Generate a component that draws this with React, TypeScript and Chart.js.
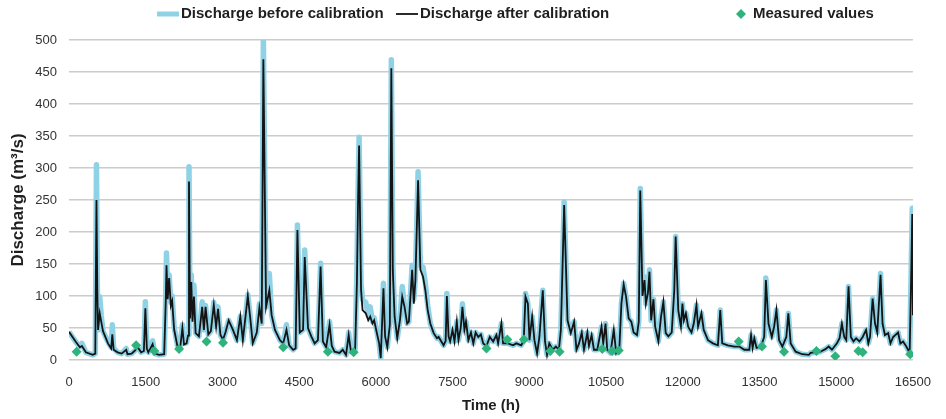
import React, { useEffect, useRef } from "react";
import { Chart, registerables } from "chart.js";

Chart.register(...registerables);

// Simulation time steps (hours)
const timeH = [
  0, 136, 213, 252, 330, 465, 514, 537, 553, 568, 601, 630, 665, 762, 824, 847, 873, 950, 1028, 1119,
  1144, 1222, 1280, 1344, 1410, 1464, 1493, 1522, 1551, 1635, 1677, 1764, 1861, 1891, 1906, 1929, 1958, 1991, 2017, 2055,
  2119, 2172, 2217, 2249, 2298, 2327, 2346, 2366, 2391, 2414, 2443, 2476, 2540, 2604, 2637, 2670, 2724, 2773, 2831, 2876,
  2914, 2961, 3011, 3058, 3122, 3205, 3283, 3349, 3399, 3496, 3543, 3593, 3671, 3723, 3768, 3800, 3853, 3917, 3962, 4027,
  4124, 4188, 4252, 4305, 4382, 4431, 4466, 4512, 4576, 4609, 4673, 4737, 4803, 4867, 4919, 4964, 5028, 5094, 5138, 5191,
  5288, 5352, 5416, 5468, 5513, 5594, 5629, 5652, 5672, 5691, 5710, 5739, 5803, 5850, 5889, 5933, 5966, 6017, 6064, 6095,
  6148, 6180, 6224, 6273, 6302, 6331, 6366, 6418, 6470, 6515, 6560, 6612, 6645, 6709, 6742, 6773, 6825, 6870, 6922, 6967,
  7013, 7064, 7130, 7194, 7226, 7324, 7364, 7388, 7421, 7452, 7498, 7537, 7582, 7615, 7659, 7692, 7731, 7762, 7808, 7859,
  7905, 7950, 8002, 8053, 8099, 8163, 8227, 8293, 8357, 8390, 8454, 8487, 8584, 8681, 8745, 8842, 8890, 8925, 8972, 9003,
  9055, 9100, 9152, 9197, 9263, 9307, 9346, 9390, 9457, 9520, 9578, 9617, 9681, 9747, 9811, 9876, 9922, 9972, 10025, 10069,
  10135, 10166, 10218, 10263, 10329, 10412, 10445, 10490, 10523, 10587, 10651, 10698, 10761, 10800, 10845, 10891, 10942, 10994, 11039, 11105,
  11140, 11169, 11213, 11252, 11279, 11318, 11349, 11382, 11427, 11460, 11524, 11576, 11621, 11667, 11718, 11784, 11834, 11861, 11912, 11964,
  11993, 12022, 12061, 12105, 12171, 12215, 12268, 12299, 12365, 12410, 12493, 12590, 12687, 12733, 12772, 12881, 13010, 13107, 13204, 13301,
  13335, 13366, 13399, 13443, 13529, 13592, 13625, 13676, 13741, 13786, 13831, 13883, 13947, 14025, 14064, 14110, 14207, 14335, 14465, 14498,
  14692, 14789, 14853, 14917, 15014, 15066, 15111, 15157, 15196, 15241, 15286, 15338, 15390, 15454, 15518, 15584, 15628, 15661, 15712, 15759,
  15803, 15867, 15906, 15952, 16016, 16061, 16113, 16210, 16255, 16307, 16371, 16436, 16468, 16487, 16500,
];

// Simulated discharge with the initial parameter set (m3/s)
const dischargeBefore = [
  44, 28, 21, 26, 12, 8, 10, 305, 120, 47, 99, 70, 45, 28, 20, 55, 18, 12, 10, 18,
  9, 10, 14, 20, 12, 14, 91, 20, 12, 30, 10, 8, 9, 100, 167, 100, 133, 90, 100, 52,
  23, 20, 55, 26, 27, 40, 302, 75, 133, 70, 117, 42, 37, 91, 47, 85, 40, 45, 90, 52,
  83, 39, 32, 43, 62, 47, 31, 68, 31, 102, 68, 26, 43, 88, 57, 500, 83, 135, 70, 47,
  31, 26, 55, 23, 16, 20, 211, 43, 47, 172, 50, 37, 26, 31, 151, 29, 20, 60, 22, 13,
  11, 16, 8, 43, 13, 16, 141, 260, 348, 240, 120, 94, 90, 70, 83, 60, 66, 45, 26, 3,
  120, 37, 20, 60, 469, 150, 68, 34, 62, 115, 83, 57, 60, 148, 95, 130, 294, 148, 145, 120,
  85, 57, 42, 34, 36, 23, 30, 104, 37, 29, 47, 29, 60, 31, 50, 88, 47, 60, 31, 43,
  26, 43, 36, 40, 26, 22, 36, 29, 39, 26, 57, 26, 26, 23, 26, 23, 30, 104, 88, 31,
  68, 31, 10, 36, 109, 29, 8, 26, 16, 21, 16, 47, 247, 62, 42, 60, 16, 26, 43, 16,
  43, 22, 39, 16, 16, 52, 26, 57, 16, 11, 47, 11, 19, 88, 120, 99, 65, 60, 43, 39,
  60, 268, 104, 130, 88, 104, 141, 62, 95, 52, 29, 68, 91, 42, 37, 43, 109, 193, 78, 52,
  88, 62, 73, 52, 43, 57, 86, 52, 73, 47, 31, 26, 23, 78, 26, 23, 21, 21, 16, 16,
  39, 19, 34, 19, 21, 36, 128, 57, 36, 52, 78, 31, 21, 36, 73, 26, 13, 9, 8, 11,
  13, 17, 21, 16, 26, 34, 57, 36, 31, 115, 36, 29, 34, 29, 36, 47, 26, 36, 96, 57,
  43, 135, 57, 39, 42, 26, 36, 43, 26, 29, 21, 11, 150, 237, 72,
];

// Simulated discharge with the calibrated parameter set (m3/s)
const dischargeAfter = [
  44, 28, 20, 22, 12, 8, 10, 250, 110, 47, 73, 60, 45, 26, 18, 40, 16, 12, 10, 16,
  9, 10, 14, 20, 12, 14, 81, 18, 12, 25, 10, 8, 9, 90, 148, 95, 128, 85, 92, 48,
  22, 18, 50, 24, 26, 38, 279, 65, 122, 60, 99, 42, 37, 83, 47, 83, 40, 45, 86, 52,
  80, 39, 32, 43, 62, 47, 31, 68, 31, 100, 66, 26, 43, 82, 57, 470, 83, 109, 70, 47,
  31, 26, 47, 23, 16, 18, 203, 43, 47, 161, 50, 37, 26, 31, 146, 29, 20, 55, 22, 13,
  11, 16, 8, 39, 13, 16, 120, 250, 335, 220, 110, 78, 73, 62, 68, 57, 62, 43, 26, 3,
  112, 37, 20, 55, 456, 140, 68, 34, 62, 99, 83, 57, 60, 141, 88, 125, 281, 141, 130, 109,
  78, 57, 42, 34, 36, 23, 30, 100, 37, 29, 47, 29, 60, 31, 50, 83, 47, 60, 31, 43,
  26, 43, 36, 40, 26, 22, 36, 29, 39, 26, 57, 26, 26, 23, 26, 23, 30, 99, 88, 31,
  68, 31, 10, 36, 109, 29, 8, 26, 16, 21, 16, 47, 242, 62, 42, 60, 16, 26, 43, 16,
  43, 22, 39, 16, 16, 52, 26, 57, 16, 11, 47, 11, 19, 88, 118, 99, 65, 60, 43, 39,
  60, 265, 100, 125, 88, 104, 138, 62, 95, 52, 29, 68, 91, 42, 37, 43, 109, 193, 78, 52,
  88, 62, 73, 52, 43, 57, 86, 52, 73, 47, 31, 26, 23, 78, 26, 23, 21, 21, 16, 16,
  39, 19, 34, 19, 21, 36, 125, 57, 36, 52, 78, 31, 21, 36, 73, 26, 13, 9, 8, 11,
  13, 17, 21, 16, 26, 34, 57, 36, 31, 115, 36, 29, 34, 29, 36, 47, 26, 36, 96, 57,
  43, 133, 57, 39, 42, 26, 36, 43, 26, 29, 21, 11, 140, 228, 70,
];

// Gauged discharge observations
const measuredTimeH = [
  149, 1313, 1668, 2152, 2689, 3011, 4188, 5061, 5565, 8163, 8570, 8894, 9410, 9592, 10426, 10620, 10748,
  13094, 13548, 13980, 14614, 14983, 15434, 15518, 16448,
];
const measuredQ = [
  13, 23, 14, 17, 29, 27, 20, 13, 12, 18, 32, 32, 14, 13, 17, 14, 15,
  29, 21, 13, 14, 6, 14, 12, 9,
];

const seriesNames = ["Discharge before calibration", "Discharge after calibration", "Measured values"];
const BEFORE_COLOR = "#8fd2e6";
const AFTER_COLOR = "#141414";
const MEASURED_COLOR = "#2fb37c";
const FONT = "'Liberation Sans', Arial, sans-serif";

const legendPlugin = {
  id: "topLegend",
  afterDraw(chart: any) {
    const ctx = chart.ctx as CanvasRenderingContext2D;
    const y = 14;
    ctx.save();
    ctx.font = `bold 15px ${FONT}`;
    ctx.fillStyle = "#1f1f1f";
    ctx.textBaseline = "middle";
    ctx.textAlign = "left";

    ctx.lineCap = "butt";
    ctx.strokeStyle = BEFORE_COLOR;
    ctx.lineWidth = 5;
    ctx.beginPath();
    ctx.moveTo(157, y);
    ctx.lineTo(179, y);
    ctx.stroke();
    ctx.fillText(seriesNames[0], 181, y);

    ctx.strokeStyle = AFTER_COLOR;
    ctx.lineWidth = 1.8;
    ctx.beginPath();
    ctx.moveTo(396, y);
    ctx.lineTo(418, y);
    ctx.stroke();
    ctx.fillText(seriesNames[1], 420, y);

    ctx.fillStyle = MEASURED_COLOR;
    ctx.beginPath();
    ctx.moveTo(741, y - 5);
    ctx.lineTo(746, y);
    ctx.lineTo(741, y + 5);
    ctx.lineTo(736, y);
    ctx.closePath();
    ctx.fill();
    ctx.fillStyle = "#1f1f1f";
    ctx.fillText(seriesNames[2], 753, y);
    ctx.restore();
  },
};

export default function App() {
  const canvasRef = useRef<HTMLCanvasElement | null>(null);

  useEffect(() => {
    if (!canvasRef.current) return;
    const before = timeH.map((t, i) => ({ x: t, y: dischargeBefore[i] }));
    const after = timeH.map((t, i) => ({ x: t, y: dischargeAfter[i] }));
    const measured = measuredTimeH.map((t, i) => ({ x: t, y: measuredQ[i] }));

    const chart = new Chart(canvasRef.current, {
      type: "line",
      data: {
        datasets: [
          {
            label: seriesNames[0],
            data: before,
            borderColor: BEFORE_COLOR,
            backgroundColor: BEFORE_COLOR,
            borderWidth: 5.5,
            borderJoinStyle: "round",
            pointRadius: 0,
            tension: 0,
            order: 3,
          },
          {
            label: seriesNames[1],
            data: after,
            borderColor: AFTER_COLOR,
            backgroundColor: AFTER_COLOR,
            borderWidth: 1.8,
            pointRadius: 0,
            tension: 0,
            order: 2,
          },
          {
            type: "scatter",
            label: seriesNames[2],
            data: measured,
            showLine: false,
            pointStyle: "rectRot",
            pointRadius: 5,
            backgroundColor: MEASURED_COLOR,
            borderColor: MEASURED_COLOR,
            borderWidth: 0,
            order: 1,
          } as any,
        ],
      },
      options: {
        responsive: false,
        animation: false,
        events: [],
        layout: { padding: { left: 0, right: 24, top: 40, bottom: 0 } },
        plugins: {
          legend: { display: false },
          tooltip: { enabled: false },
        },
        scales: {
          x: {
            type: "linear",
            min: 0,
            max: 16500,
            afterFit: (scale: any) => {
              scale.height = 59;
            },
            ticks: {
              stepSize: 1500,
              autoSkip: false,
              maxRotation: 0,
              padding: 15,
              color: "#333333",
              font: { family: FONT, size: 13 },
              callback: (value: any) => String(value),
            },
            grid: { display: false, drawTicks: false },
            border: { display: false },
            title: {
              display: true,
              text: "Time (h)",
              color: "#1f1f1f",
              font: { family: FONT, size: 15, weight: "bold" },
              padding: { top: 0, bottom: 4 },
            },
          },
          y: {
            type: "linear",
            min: 0,
            max: 500,
            afterFit: (scale: any) => {
              scale.width = 69;
            },
            ticks: {
              stepSize: 50,
              padding: 12,
              color: "#333333",
              font: { family: FONT, size: 13 },
              callback: (value: any) => String(value),
            },
            grid: { color: "#cccccc", lineWidth: 1.6, drawTicks: false },
            border: { display: false },
            title: {
              display: true,
              text: "Discharge (m³/s)",
              color: "#1f1f1f",
              font: { family: FONT, size: 17, weight: "bold" },
              padding: { top: 8, bottom: 0 },
            },
          },
        },
      },
      plugins: [legendPlugin],
    });
    return () => chart.destroy();
  }, []);

  return (
    <div style={{ position: "fixed", left: 0, top: 0, width: 946, height: 419, background: "#ffffff" }}>
      <canvas ref={canvasRef} width={946} height={419} style={{ display: "block" }} />
    </div>
  );
}
